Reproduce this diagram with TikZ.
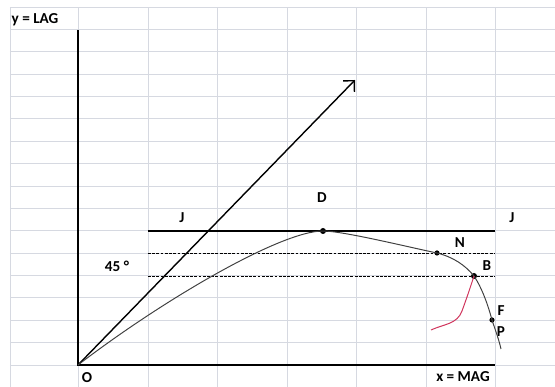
\documentclass[tikz,border=0pt]{standalone}
\usepackage{fontspec}
\setmainfont{Carlito}
\usepackage{tikz}
\usetikzlibrary{arrows.meta}
\definecolor{gridgray}{RGB}{214,217,225}
\definecolor{bendred}{RGB}{208,52,92}

\begin{document}
\begin{tikzpicture}[
  x=0.025cm,y=0.025cm,
  every node/.style={font=\bfseries\fontsize{10.8}{13}\selectfont},
  gridline/.style={draw=gridgray,line width=0.6pt},
  axis/.style={draw=black,line width=1.4pt},
  level/.style={draw=black,line width=0.6pt,dash pattern=on 2pt off 1pt},
  curve/.style={draw=black!75,line width=0.7pt},
  point/.style={circle,fill=black,inner sep=0pt,minimum size=1.5mm}
]
\useasboundingbox (-78,-22) rectangle (477,365);

% 背景の方眼
\foreach \gx in {-68,0,70,139,209,278,348,417}
  \draw[gridline] (\gx,-22) -- (\gx,358);
\foreach \k in {0,...,16}
  \draw[gridline] (-68,{\k*22.375}) -- (477,{\k*22.375});

% 座標軸
\coordinate (O) at (0,0);
\coordinate (ytop) at (0,335);
\coordinate (xend) at (417,0);
\draw[axis] (ytop) -- (O) -- (xend);
\node (lagl) at (-43,345) {y = LAG};
\node (magl) at (385,-12) {x = MAG};
\node (ol) at (9,-13) {O};

% 45度の線
\coordinate (tip) at (277,285);
\draw[line width=1pt,-{Straight Barb[angle=90:8pt]}] (O) -- (tip);
\node (angl) at (39,99) {45 °};

% 水平線 J と点線
\coordinate (jleft) at (70,134);
\coordinate (jright) at (417,134);
\coordinate (nleft) at (70,112);
\coordinate (nright) at (417,112);
\coordinate (bleft) at (70,89);
\coordinate (bright) at (417,89);
\draw[axis] (jleft) -- (jright);
\draw[level] (nleft) -- (nright);
\draw[level] (bleft) -- (bright);
\node (jl) at (104,147) {J};
\node (jr) at (434,147) {J};

% 曲線上の点
\node[point] (D) at (245,134) {};
\node[point,minimum size=1.3mm] (N) at (359,112) {};
\node[point] (B) at (396,89) {};
\node[point,minimum size=1.3mm] (F) at (414,45) {};
\coordinate (tail) at (423,16);
\node (dl) at (244,167) {D};
\node (nl) at (382,122) {N};
\node (bl) at (409,99) {B};
\node (fl) at (423,54) {F};
\node (pl) at (423,33) {P};

% 曲線
\draw[curve] (O) .. controls (82,63) and (202,134) .. (D.center)
  .. controls (265,134) and (330,118) .. (N.center)
  .. controls (375,108) and (387,100) .. (B.center)
  .. controls (404,77) and (410,60) .. (F.center)
  .. controls (418,33) and (421,25) .. (tail);

% 赤い曲線
\coordinate (rbend) at (384,54);
\coordinate (rend) at (353,35);
\draw[bendred,line width=0.7pt] (B.center) to[out=-108,in=70] (rbend)
  to[out=-110,in=25] (rend);

\end{tikzpicture}
\end{document}
